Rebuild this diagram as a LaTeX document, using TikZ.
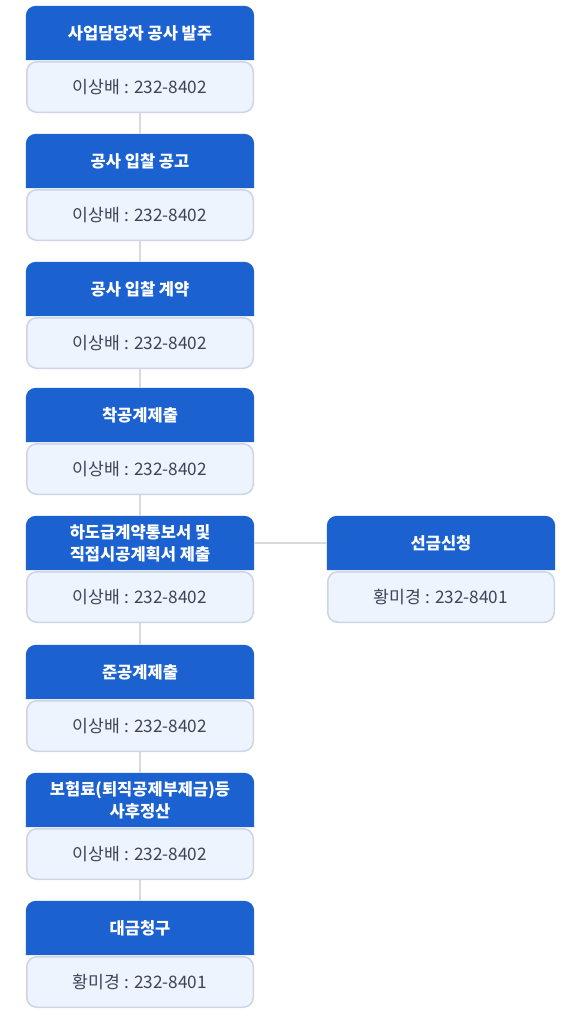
\documentclass[tikz,border=0pt]{standalone}
\usepackage{fontspec}
\setmainfont{Noto Sans CJK KR}
\usepackage{xcolor}
\usetikzlibrary{backgrounds}
\definecolor{headblue}{HTML}{1B62D0}
\definecolor{bodyblue}{HTML}{EEF4FE}
\definecolor{bodyline}{HTML}{CCD5E5}
\definecolor{bodytext}{HTML}{3B4556}
\definecolor{linkgray}{HTML}{DADADA}
\tikzset{
	headbox/.style={rectangle,minimum width=228pt,minimum height=54pt,inner sep=0pt,text=white,align=center,font=\bfseries\fontsize{16.5}{22}\selectfont},
	bodybox/.style={rectangle,draw=bodyline,line width=1.5pt,fill=bodyblue,rounded corners=10pt,minimum width=226.5pt,minimum height=50.5pt,inner sep=0pt,text=bodytext,font=\fontsize{17.2}{20}\selectfont},
	link/.style={draw=linkgray,line width=1.5pt}
}
\begin{document}
\begin{tikzpicture}[x=1pt,y=-1pt]
	\useasboundingbox (0,0) rectangle (569,1021);
	% main column
	\node[headbox](h1) at (140,33) {사업담당자 공사 발주};
	\node[bodybox](b1) at (140,87) {이상배 : 232-8402};
	\node[headbox](h2) at (140,161) {공사 입찰 공고};
	\node[bodybox](b2) at (140,215) {이상배 : 232-8402};
	\node[headbox](h3) at (140,289) {공사 입찰 계약};
	\node[bodybox](b3) at (140,343) {이상배 : 232-8402};
	\node[headbox](h4) at (140,415) {착공계제출};
	\node[bodybox](b4) at (140,469) {이상배 : 232-8402};
	\node[headbox](h5) at (140,543) {하도급계약통보서 및\\직접시공계획서 제출};
	\node[bodybox](b5) at (140,597) {이상배 : 232-8402};
	\node[headbox](h6) at (140,672) {준공계제출};
	\node[bodybox](b6) at (140,726) {이상배 : 232-8402};
	\node[headbox](h7) at (140,800) {보험료(퇴직공제부제금)등\\사후정산};
	\node[bodybox](b7) at (140,854) {이상배 : 232-8402};
	\node[headbox](h8) at (140,928) {대금청구};
	\node[bodybox](b8) at (140,982) {황미경 : 232-8401};
	% side step
	\node[headbox](hr) at (441,543) {선금신청};
	\node[bodybox](br) at (441,597) {황미경 : 232-8401};
	\begin{scope}[on background layer]
		\foreach \h in {h1,h2,h3,h4,h5,h6,h7,h8,hr}
			\fill[headblue,rounded corners=10pt] (\h.south east)--(\h.north east)--(\h.north west)--(\h.south west);
		\foreach \a/\b in {b1/h2,b2/h3,b3/h4,b4/h5,b5/h6,b6/h7,b7/h8}
			\draw[link] (\a.south)--(\b.north);
		\draw[link] (h5.east)--(hr.west);
	\end{scope}
\end{tikzpicture}
\end{document}
